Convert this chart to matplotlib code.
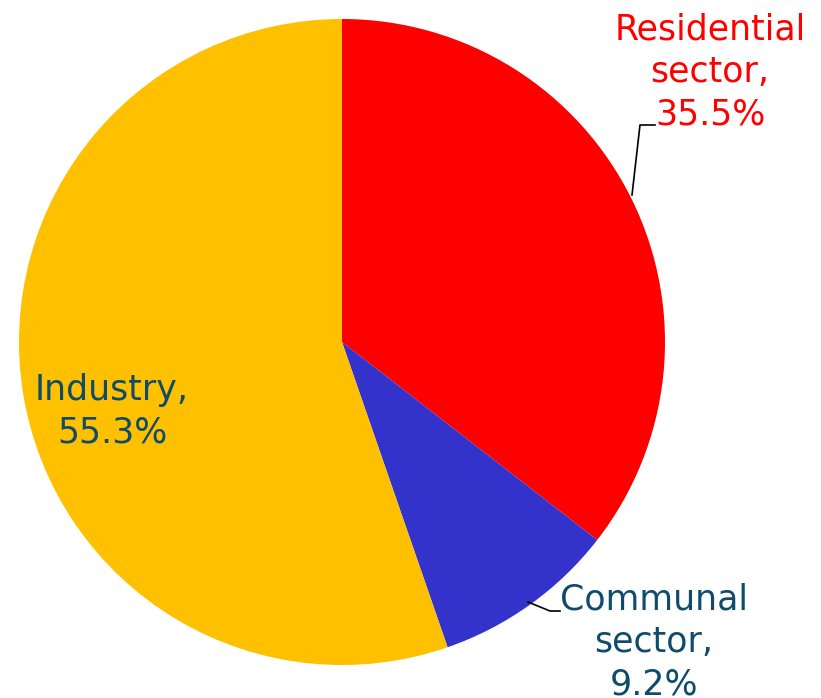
import matplotlib.pyplot as plt

# Dados do grafico
labels = ["Residential\nsector,\n35.5%", "Communal\nsector,\n9.2%", "Industry,\n55.3%"]
shares = [35.5, 9.2, 55.3]
colors = ["#FF0000", "#3333CC", "#FFC000"]
text_colors = ["#FF0000", "#0F4C6B", "#0F4C6B"]

fig = plt.figure(figsize=(8.21, 6.98), dpi=100)
ax = fig.add_axes([0, 0, 1, 1])

ax.pie(shares, colors=colors, startangle=90, counterclock=False,
       center=(342, 356), radius=323, frame=True,
       wedgeprops=dict(linewidth=0))
ax.set_xlim(0, 821)
ax.set_ylim(0, 698)
ax.set_aspect("equal")
ax.axis("off")

# rotulos
pos = [(710, 626), (654, 56), (112, 287)]
for lab, c, (x, y) in zip(labels, text_colors, pos):
    ax.text(x, y, lab, color=c, fontsize=25, ha="center", va="center",
            linespacing=1.33, family="DejaVu Sans", weight="medium")

# linhas de chamada
ax.plot([632, 640, 655], [503, 573, 573], color="black", lw=1.2)
ax.plot([528, 550, 560], [96, 87, 87], color="black", lw=1.2)

fig.savefig("out.png", dpi=100)
